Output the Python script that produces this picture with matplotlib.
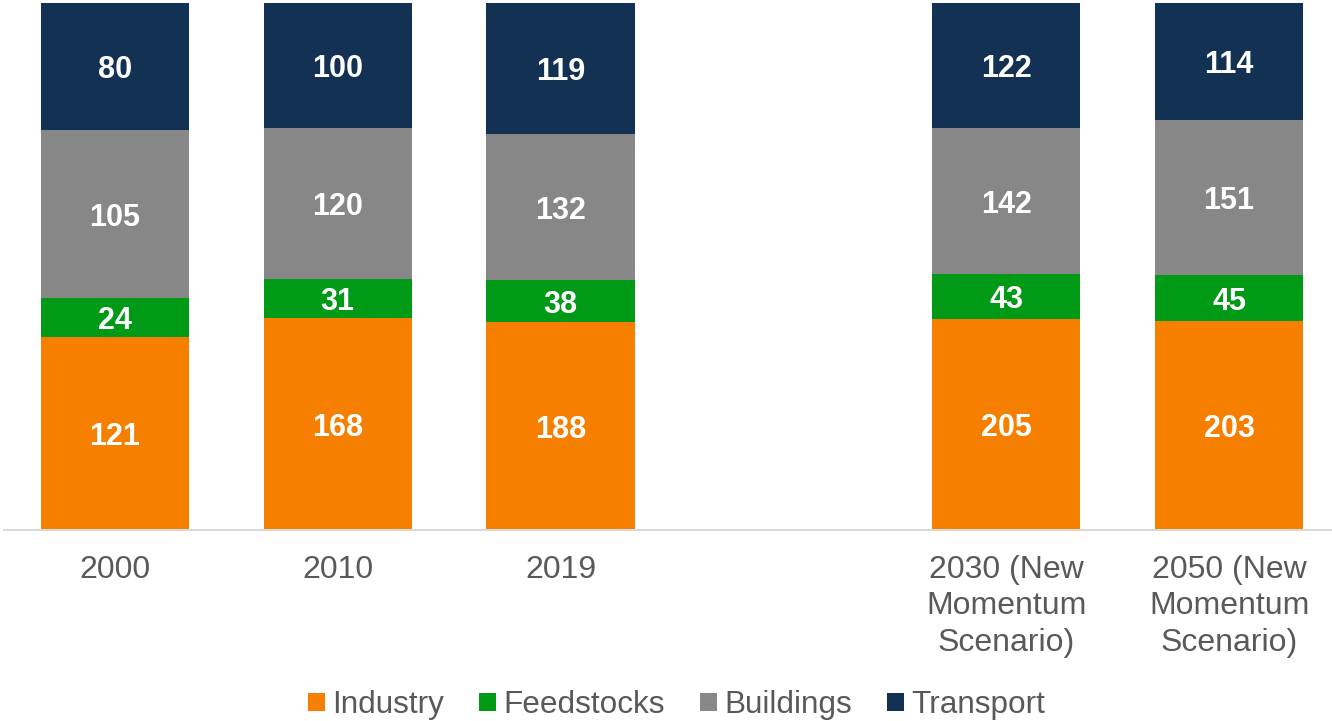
import numpy as np
import matplotlib
matplotlib.use("Agg")
import matplotlib.pyplot as plt

plt.rcParams['font.family'] = ['Liberation Sans', 'DejaVu Sans']

#------------------------------------------------------------------------------#
# Data
years = ['2000', '2010', '2019', '2030 (New\nMomentum\nScenario)', '2050 (New\nMomentum\nScenario)']
industry = [121, 168, 188, 205, 203]
feedstocks = [24, 31, 38, 43, 45]
buildings = [105, 120, 132, 142, 151]
transport = [80, 100, 119, 122, 114]

series = [('Industry', industry, '#F77F00'),
          ('Feedstocks', feedstocks, '#009A17'),
          ('Buildings', buildings, '#878787'),
          ('Transport', transport, '#133253')]

#------------------------------------------------------------------------------#
# one empty slot between history and scenarios
pos = np.arange(len(years)) + np.array([0, 0, 0, 1, 1])
total = np.sum([s[1] for s in series], axis=0)

fig = plt.figure(figsize=(13.32, 7.21), dpi=100)
ax = fig.add_axes([3.5/1332, 1 - 530/721, 1337/1332, 527.5/721])

bottom = np.zeros(len(years))
for name, vals, col in series:
    vals = np.array(vals, dtype=float)
    frac = vals / total
    ax.bar(pos, frac, 0.665, bottom=bottom, color=col, label=name)
    for x, b, f, v in zip(pos, bottom, frac, vals):
        ax.text(x, b + f/2, '%d' % v, ha='center', va='center_baseline',
                color='white', fontsize=22, fontweight='bold')
    bottom += frac

ax.set_xlim(-0.5, 5.5)
ax.set_ylim(0, 1)
ax.set_xticks(pos)
ax.set_xticklabels(years, fontsize=23, color='#595959', linespacing=1.28)
ax.tick_params(axis='x', length=0, pad=18)
ax.set_yticks([])
for s in ['top', 'right', 'left']:
    ax.spines[s].set_visible(False)
ax.spines['bottom'].set_color('#D9D9D9')
ax.spines['bottom'].set_linewidth(1.5)

leg = fig.legend(loc='center', bbox_to_anchor=(0.508, 0.022), ncol=4,
                 frameon=False, fontsize=22.7, handlelength=0.53, handleheight=0.53,
                 handletextpad=0.25, columnspacing=1.1, borderpad=0)
for t in leg.get_texts():
    t.set_color('#595959')

plt.savefig('out.png', dpi=100)
